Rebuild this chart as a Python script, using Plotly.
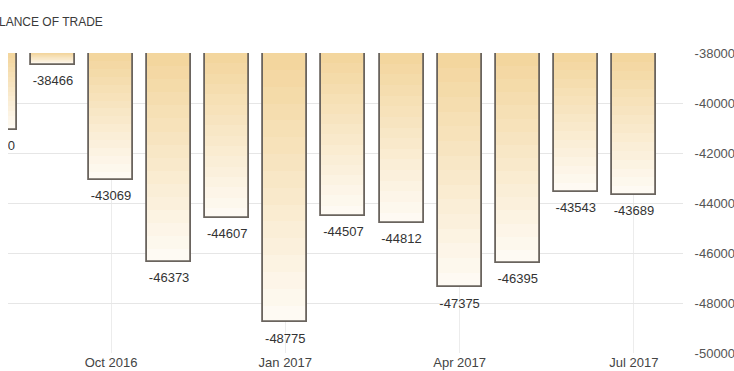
import plotly.graph_objects as go

months = ["Aug 2016", "Sep 2016", "Oct 2016", "Nov 2016", "Dec 2016", "Jan 2017",
          "Feb 2017", "Mar 2017", "Apr 2017", "May 2017", "Jun 2017", "Jul 2017"]
values = [-41080, -38466, -43069, -46373, -44607, -48775,
          -44507, -44812, -47375, -46395, -43543, -43689]
x_ticks = ["Oct 2016", "Jan 2017", "Apr 2017", "Jul 2017"]
y_ticks = [-38000, -40000, -42000, -44000, -46000, -48000, -50000]
base_level = -38000
title_text = "BALANCE OF TRADE"

FONT = "Liberation Sans, Arial, sans-serif"
PLOT_W = 734 - 8 - 51

fig = go.Figure()

# gradient built from stacked layers (top darker -> bottom lighter), relative to each bar
top_rgb = (243, 214, 158)
bot_rgb = (254, 250, 243)
n_layers = 16
for k in range(n_layers):
    frac = 1 - k / n_layers
    tt = k / (n_layers - 1)
    r = round(bot_rgb[0] + (top_rgb[0] - bot_rgb[0]) * tt)
    g = round(bot_rgb[1] + (top_rgb[1] - bot_rgb[1]) * tt)
    b = round(bot_rgb[2] + (top_rgb[2] - bot_rgb[2]) * tt)
    fig.add_trace(go.Bar(
        x=months,
        y=[(v - base_level) * frac for v in values],
        base=base_level,
        width=0.757,
        marker=dict(color=f"rgb({r},{g},{b})", line=dict(width=0)),
        hoverinfo="skip",
        showlegend=False,
    ))

# outline
fig.add_trace(go.Bar(
    x=months,
    y=[v - base_level for v in values],
    base=base_level,
    width=0.757,
    marker=dict(color="rgba(0,0,0,0)", line=dict(color="#6a645e", width=1.8)),
    customdata=values,
    hovertemplate="%{x}: %{customdata}<extra></extra>",
    showlegend=False,
))

# value labels
fig.add_trace(go.Scatter(
    x=months,
    y=values,
    mode="markers+text",
    marker=dict(size=15, opacity=0),
    text=[str(v) for v in values],
    textposition="bottom center",
    textfont=dict(family=FONT, size=13, color="#333333"),
    hoverinfo="skip",
    showlegend=False,
))

fig.add_annotation(
    xref="paper", yref="paper",
    x=-27 / PLOT_W, y=1 + (53 - 22) / 300,
    xanchor="left", yanchor="middle",
    text=title_text, showarrow=False,
    font=dict(family=FONT, size=12, color="#3a3a3a"),
)

fig.update_layout(
    width=734, height=371,
    margin=dict(l=8, r=51, t=53, b=18),
    paper_bgcolor="white", plot_bgcolor="white",
    barmode="overlay",
    bargap=0,
    font=dict(family=FONT, size=13, color="#555555"),
    xaxis=dict(
        type="category",
        categoryorder="array", categoryarray=months,
        range=[0.227, 11.845],
        tickvals=x_ticks,
        ticktext=x_ticks,
        showgrid=True, gridcolor="#ececec", gridwidth=1,
        showline=False, zeroline=False,
        ticks="", automargin=False,
        tickfont=dict(family=FONT, size=13, color="#444444"),
    ),
    yaxis=dict(
        side="right",
        range=[-50000, -38000],
        tickvals=y_ticks,
        ticktext=[str(v) for v in y_ticks],
        showgrid=True, gridcolor="#e6e6e6", gridwidth=1,
        zeroline=False, showline=False,
        ticks="outside", ticklen=8, tickcolor="rgba(0,0,0,0)",
        automargin=False,
        tickfont=dict(family=FONT, size=13, color="#555555"),
    ),
)

fig.write_html("out.html")
